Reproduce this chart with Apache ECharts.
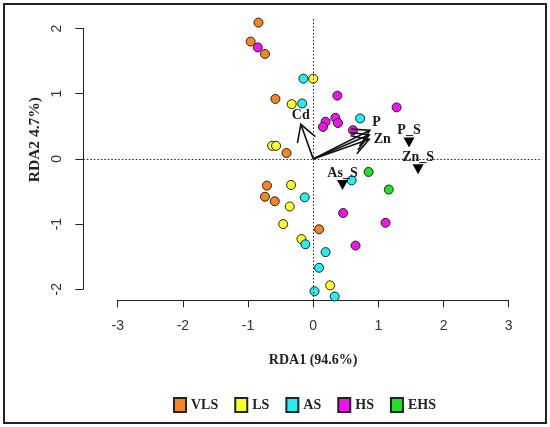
<!DOCTYPE html>
<html>
<head>
<meta charset="utf-8">
<script src="https://cdn.jsdelivr.net/npm/echarts@6/dist/echarts.min.js"></script>
<style>
    html, body { margin: 0; padding: 0; background: #fff; }
    #rdacontainer { width: 550px; height: 427px; }
</style>
</head>
<body>
<div id="rdacontainer"></div>
<script>
    // site scores, one pair of arrays per group
    var groupNames = ['VLS', 'LS', 'AS', 'HS', 'EHS'];
    var groupColors = ['#f7861e', '#ffff26', '#26eeee', '#ee14ee', '#22e022'];

    var vlsX = [-0.84, -0.96, -0.74, -0.58, -0.41, -0.71, -0.74, -0.59, 0.09];
    var vlsY = [2.09, 1.80, 1.61, 0.92, 0.09, -0.41, -0.58, -0.65, -1.08];
    var lsX = [0.00, -0.33, -0.63, -0.57, -0.34, -0.36, -0.46, -0.18, 0.26];
    var lsY = [1.23, 0.84, 0.20, 0.20, -0.40, -0.73, -1.00, -1.23, -1.94];
    var asX = [-0.15, -0.17, 0.72, 0.59, -0.13, -0.12, 0.19, 0.09, 0.02, 0.33];
    var asY = [1.23, 0.85, 0.62, -0.33, -0.59, -1.31, -1.43, -1.67, -2.03, -2.11];
    var hsX = [-0.85, 0.19, 0.15, 0.37, 1.28, 0.34, 0.38, 0.61, 0.46, 1.11, 0.65];
    var hsY = [1.71, 0.57, 0.49, 0.97, 0.79, 0.63, 0.55, 0.44, -0.83, -0.98, -1.33];
    var ehsX = [0.85, 1.16];
    var ehsY = [-0.20, -0.47];

    // species scores (triangles)
    var speciesNames = ['P_S', 'Zn_S', 'As_S'];
    var speciesX = [1.47, 1.61, 0.45];
    var speciesY = [0.25, -0.16, -0.40];

    // environmental arrows
    var arrowNames = ['Cd', 'P', 'Zn', ''];
    var arrowX = [-0.19, 0.87, 0.86, 0.86];
    var arrowY = [0.53, 0.44, 0.30, 0.37];
    var arrowLabelX = [-0.19, 0.97, 1.06, 0];
    var arrowLabelY = [0.67, 0.56, 0.30, 0];

    var xTicks = [-3, -2, -1, 0, 1, 2, 3];
    var yTicks = [-2, -1, 0, 1, 2];

    var serif = '"Liberation Serif", "DejaVu Serif", serif';
    var sans = '"Liberation Sans", Arial, sans-serif';

    function zip(xs, ys) {
        var out = [];
        for (var i = 0; i < xs.length; i++) {
            out.push([xs[i], ys[i]]);
        }
        return out;
    }

    var groupData = [zip(vlsX, vlsY), zip(lsX, lsY), zip(asX, asY), zip(hsX, hsY), zip(ehsX, ehsY)];

    var series = [];
    for (var g = 0; g < groupNames.length; g++) {
        series.push({
            name: groupNames[g],
            type: 'scatter',
            xAxisIndex: 0,
            yAxisIndex: 0,
            symbol: 'circle',
            symbolSize: 9,
            itemStyle: { color: groupColors[g], borderColor: '#222', borderWidth: 1, opacity: 1 },
            data: groupData[g]
        });
    }

    // dotted zero lines
    series[0].markLine = {
        silent: true,
        symbol: 'none',
        label: { show: false },
        lineStyle: { color: '#222', width: 1, type: [1.5, 2], opacity: 1 },
        data: [{ xAxis: 0 }, { yAxis: 0 }]
    };

    var speciesData = [];
    for (var s = 0; s < speciesNames.length; s++) {
        speciesData.push({ name: speciesNames[s], value: [speciesX[s], speciesY[s]] });
    }
    series.push({
        name: 'species',
        type: 'scatter',
        xAxisIndex: 0,
        yAxisIndex: 0,
        symbol: 'triangle',
        symbolRotate: 180,
        symbolSize: [11, 10],
        itemStyle: { color: '#000', opacity: 1 },
        label: {
            show: true,
            position: 'top',
            distance: 0,
            formatter: '{b}',
            fontFamily: serif,
            fontWeight: 'bold',
            fontSize: 14,
            color: '#1a1a1a',
            opacity: 1
        },
        data: speciesData,
        z: 4
    });

    var arrowData = [];
    for (var a = 0; a < arrowNames.length; a++) {
        arrowData.push([arrowX[a], arrowY[a], arrowLabelX[a], arrowLabelY[a]]);
    }
    series.push({
        name: 'arrows',
        type: 'custom',
        xAxisIndex: 0,
        yAxisIndex: 0,
        renderItem: function (params, api) {
            var o = api.coord([0, 0]);
            var t = api.coord([api.value(0), api.value(1)]);
            var ang = Math.atan2(o[1] - t[1], o[0] - t[0]);
            var len = 19, open = Math.PI / 6;
            var h1 = [t[0] + len * Math.cos(ang + open), t[1] + len * Math.sin(ang + open)];
            var h2 = [t[0] + len * Math.cos(ang - open), t[1] + len * Math.sin(ang - open)];
            var children = [
                { type: 'line', shape: { x1: o[0], y1: o[1], x2: t[0], y2: t[1] }, style: { stroke: '#111', lineWidth: 1.6 } },
                { type: 'polyline', shape: { points: [h1, t, h2] }, style: { stroke: '#111', lineWidth: 1.6, fill: null } }
            ];
            var name = arrowNames[params.dataIndex];
            if (name) {
                var lab = api.coord([api.value(2), api.value(3)]);
                children.push({
                    type: 'text',
                    style: {
                        text: name, x: lab[0], y: lab[1],
                        align: 'center', verticalAlign: 'middle',
                        font: 'bold 14px ' + serif, fill: '#1a1a1a'
                    }
                });
            }
            return { type: 'group', children: children };
        },
        data: arrowData,
        z: 3
    });

    var chart = echarts.init(document.getElementById('rdacontainer'));
    var option = {
        backgroundColor: '#fff',
        animation: false,
        grid: [
            { left: 83.3, right: 8, top: 18, bottom: 126.5 },        // data area
            { left: 117.7, right: 41.3, top: 28.5, bottom: 137.7 }   // axis frame
        ],
        xAxis: [
            { gridIndex: 0, type: 'value', min: -3.528, max: 3.511, show: false },
            {
                gridIndex: 1, type: 'value',
                min: xTicks[0], max: xTicks[xTicks.length - 1], interval: 1,
                position: 'bottom',
                offset: 11,
                axisLine: { show: true, onZero: false, lineStyle: { color: '#222', width: 1 } },
                axisTick: { show: true, length: 7, lineStyle: { color: '#222' } },
                axisLabel: { fontFamily: sans, fontSize: 14, color: '#333', margin: 19 },
                splitLine: { show: false },
                name: 'RDA1 (94.6%)',
                nameLocation: 'middle',
                nameGap: 53,
                nameTextStyle: { fontFamily: serif, fontWeight: 'bold', fontSize: 14, color: '#222' }
            }
        ],
        yAxis: [
            { gridIndex: 0, type: 'value', min: -2.172, max: 2.161, show: false },
            {
                gridIndex: 1, type: 'value',
                min: yTicks[0], max: yTicks[yTicks.length - 1], interval: 1,
                position: 'left',
                offset: 34.4,
                axisLine: { show: true, onZero: false, lineStyle: { color: '#222', width: 1 } },
                axisTick: { show: true, length: 8, lineStyle: { color: '#222' } },
                axisLabel: { fontFamily: sans, fontSize: 14, color: '#333', rotate: 90, margin: 19 },
                splitLine: { show: false }
            }
        ],
        legend: {
            data: groupNames,
            left: 173,
            top: 397,
            padding: 0,
            icon: 'rect',
            itemWidth: 12,
            itemHeight: 14,
            itemGap: 16,
            textStyle: { fontFamily: serif, fontWeight: 'bold', fontSize: 14, color: '#222' }
        },
        graphic: [
            {
                type: 'text',
                left: 27,
                top: 97,
                rotation: Math.PI / 2,
                style: { text: 'RDA2 4.7%)', font: 'bold 15.5px ' + serif, fill: '#222' }
            },
            {
                type: 'rect',
                shape: { x: 4, y: 4, width: 542, height: 419 },
                style: { fill: null, stroke: '#222', lineWidth: 2 },
                silent: true
            }
        ],
        series: series
    };
    chart.setOption(option);
</script>
</body>
</html>
